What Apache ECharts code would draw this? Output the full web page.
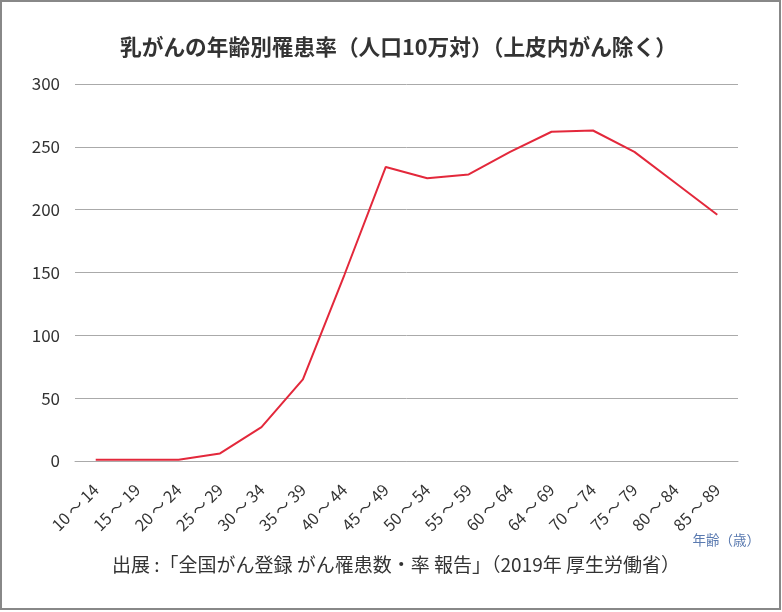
<!DOCTYPE html>
<html>
<head>
<meta charset="utf-8">
<script src="https://cdn.jsdelivr.net/npm/echarts@6/dist/echarts.min.js"></script>
<style>
  html, body { margin: 0; padding: 0; background: #fff; }
  #chart { width: 782px; height: 612px; }
</style>
</head>
<body>
<div id="chart"></div>
<script>
// age groups (x axis)
const ageGroups = ['10～14', '15～19', '20～24', '25～29', '30～34', '35～39', '40～44', '45～49',
  '50～54', '55～59', '60～64', '64～69', '70～74', '75～79', '80～84', '85～89'];
// incidence per 100,000
const incidence = [1, 1, 1, 6, 27, 65, 148, 234, 225, 228, 246, 262, 263, 246, 221, 196];
const yTicks = { min: 0, max: 300, interval: 50 };

const titleText = '乳がんの年齢別罹患率（人口10万対）（上皮内がん除く）';
const sourceText = '出展 :「全国がん登録 がん罹患数・率 報告」（2019年 厚生労働省）';
const axisName = '年齢（歳）';

const font = '"Noto Sans CJK JP", "Noto Sans", sans-serif';
const chart = echarts.init(document.getElementById('chart'));

const option = {
  backgroundColor: '#fff',
  textStyle: { fontFamily: font },
  title: {
    text: titleText,
    // placed by hand: the closing paren leaves blank space, so 'center' looks off
    left: 115,
    top: 31,
    textStyle: { fontSize: 21.7, fontWeight: 'bold', color: '#333', fontFamily: font }
  },
  grid: {
    left: 75,
    right: 44,
    top: 84,
    bottom: 151
  },
  xAxis: {
    type: 'category',
    data: ageGroups,
    boundaryGap: true,
    axisLine: { lineStyle: { color: '#aaa' } },
    axisTick: { show: false },
    axisLabel: {
      rotate: 45,
      color: '#333',
      fontSize: 16,
      fontFamily: font,
      margin: 26,
      interval: 0,
      // a little air around the wave dash, like the original
      formatter: (v) => v.replace('～', '\u2009～\u2009')
    }
  },
  yAxis: {
    type: 'value',
    min: yTicks.min,
    max: yTicks.max,
    interval: yTicks.interval,
    axisLine: { show: false },
    axisTick: { show: false },
    axisLabel: { color: '#333', fontSize: 17, fontFamily: font, margin: 15 },
    splitLine: { lineStyle: { color: '#aaa', width: 1 } }
  },
  graphic: [
    {
      type: 'rect',
      shape: { x: 1, y: 1, width: 779, height: 608 },
      style: { fill: 'none', stroke: '#888', lineWidth: 2 },
      silent: true
    },
    {
      type: 'text',
      x: 760,
      y: 533,
      style: { text: axisName, fill: '#5a7ab0', fontSize: 13.5, fontFamily: font, align: 'right' }
    },
    {
      type: 'text',
      x: 396,
      y: 555,
      style: { text: sourceText, fill: '#333', fontSize: 19, fontFamily: font, align: 'center' }
    }
  ],
  series: [{
    type: 'line',
    data: incidence,
    symbol: 'none',
    lineStyle: { color: '#e3283b', width: 2 },
    itemStyle: { color: '#e3283b' }
  }]
};

chart.setOption(option);
</script>
</body>
</html>
